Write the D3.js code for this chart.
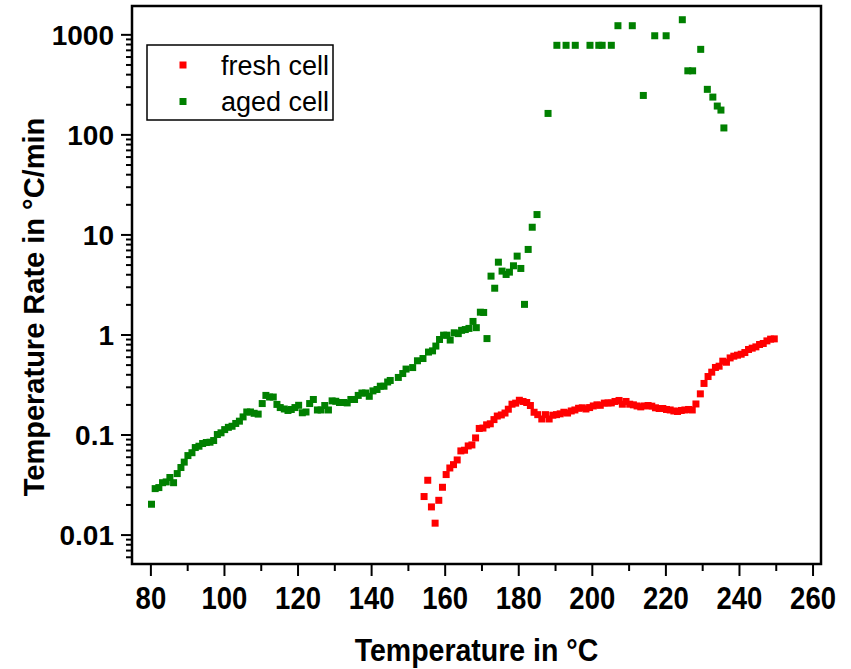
<!DOCTYPE html>
<html>
<head>
<meta charset="utf-8">
<script src="https://cdn.jsdelivr.net/npm/d3@7"></script>
<style>
  body { margin: 0; background: #fff; }
  svg text { font-family: "Liberation Sans", Arial, sans-serif; }
</style>
</head>
<body>
<div id="chart"></div>
<script>
(function () {

	'use strict';

	// fresh cell, temperature in °C and rate in °C/min
	const freshTemp = [154.4, 155.4, 156.4, 157.4, 158.4, 159.4, 160.4, 161.4, 162.4, 163.4,
		164.4, 165.4, 166.4, 167.4, 168.4, 169.4, 170.4, 171.4, 172.4, 173.4,
		174.3, 175.4, 176.4, 177.3, 178.3, 179.3, 180.3, 181.3, 182.3, 183.3,
		184.3, 185.3, 186.4, 187.4, 188.4, 189.4, 190.4, 191.4, 192.4, 193.4,
		194.4, 195.4, 196.4, 197.4, 198.4, 199.4, 200.4, 201.4, 202.3, 203.4,
		204.4, 205.3, 206.3, 207.4, 208.3, 209.3, 210.3, 211.3, 212.3, 213.3,
		214.3, 215.3, 216.3, 217.3, 218.3, 219.3, 220.3, 221.3, 222.3, 223.3,
		224.3, 225.3, 226.3, 227.3, 228.3, 229.5, 230.5, 231.6, 232.6, 233.6,
		234.6, 235.6, 236.6, 237.6, 238.6, 239.6, 240.6, 241.6, 242.6, 243.6,
		244.6, 245.6, 246.6, 247.6, 248.6, 249.6];
	const freshRate = [0.024, 0.0349, 0.0189, 0.013, 0.022, 0.0297, 0.0398, 0.0463, 0.050, 0.0557,
		0.0686, 0.0697, 0.0769, 0.0787, 0.0925, 0.115, 0.116, 0.125, 0.128, 0.141,
		0.153, 0.157, 0.164, 0.179, 0.201, 0.206, 0.220, 0.214, 0.209, 0.195,
		0.167, 0.158, 0.143, 0.158, 0.143, 0.156, 0.158, 0.161, 0.167, 0.164,
		0.172, 0.176, 0.183, 0.185, 0.180, 0.186, 0.193, 0.198, 0.196, 0.206,
		0.207, 0.207, 0.214, 0.219, 0.201, 0.214, 0.201, 0.198, 0.193, 0.189,
		0.193, 0.195, 0.192, 0.185, 0.182, 0.182, 0.178, 0.176, 0.172, 0.170,
		0.174, 0.176, 0.178, 0.176, 0.202, 0.255, 0.324, 0.38, 0.42, 0.468,
		0.482, 0.541, 0.528, 0.583, 0.607, 0.621, 0.635, 0.66, 0.708, 0.73,
		0.752, 0.794, 0.813, 0.863, 0.898, 0.904];

	// aged cell
	const agedTemp = [80.3, 81.3, 82.3, 83.3, 84.3, 85.3, 86.3, 87.3, 88.3, 89.2,
		90.2, 91.3, 92.2, 93.2, 94.2, 95.2, 96.2, 97.2, 98.2, 99.2,
		100.2, 101.2, 102.2, 103.2, 104.2, 105.2, 106.2, 107.2, 108.2, 109.3,
		110.4, 111.4, 112.4, 113.4, 114.4, 115.3, 116.4, 117.4, 118.3, 119.3,
		120.3, 121.3, 122.3, 123.3, 124.3, 125.4, 126.4, 127.4, 128.4, 129.4,
		130.4, 131.4, 132.5, 133.5, 134.5, 135.5, 136.5, 137.5, 138.5, 139.5,
		140.5, 141.6, 142.5, 143.5, 144.5, 145.2, 147.4, 148.6, 149.5, 151.3,
		152.6, 154.1, 155.6, 156.7, 157.6, 158.6, 159.7, 160.6, 161.5, 162.6,
		163.7, 164.6, 165.6, 166.6, 167.7, 168.6, 169.7, 170.6, 171.5, 172.6,
		173.6, 174.6, 175.6, 176.7, 177.6, 178.7, 179.7, 180.7, 181.7, 182.7,
		183.8, 185.1, 188.1, 190.5, 193.0, 195.5, 199.5, 201.9, 202.8, 205.3,
		207.1, 211.0, 214.0, 217.1, 220.2, 224.6, 226.1, 227.4, 229.6, 231.4,
		232.9, 234.1, 235.1, 235.9];
	const agedRate = [0.0201, 0.0288, 0.0295, 0.033, 0.0336, 0.0372, 0.033, 0.0407, 0.0468, 0.053,
		0.0616, 0.0658, 0.0741, 0.0764, 0.0813, 0.0832, 0.0838, 0.0871, 0.100, 0.104,
		0.112, 0.118, 0.121, 0.129, 0.136, 0.150, 0.168, 0.168, 0.163, 0.160,
		0.204, 0.246, 0.237, 0.237, 0.200, 0.186, 0.180, 0.174, 0.178, 0.186,
		0.196, 0.165, 0.168, 0.204, 0.224, 0.176, 0.176, 0.195, 0.176, 0.217,
		0.215, 0.209, 0.209, 0.207, 0.224, 0.224, 0.246, 0.260, 0.260, 0.241,
		0.273, 0.282, 0.304, 0.304, 0.335, 0.347, 0.372, 0.407, 0.451, 0.467,
		0.546, 0.575, 0.667, 0.686, 0.766, 0.891, 0.984, 0.984, 0.88, 1.04,
		1.02, 1.10, 1.12, 1.15, 1.35, 1.17, 1.67, 1.66, 0.91, 3.83,
		2.9, 5.28, 4.3, 3.98, 4.2, 4.86, 6.07, 4.57, 2.0, 7.08,
		11.8, 15.8, 162, 777, 777, 777, 777, 777, 777, 777,
		1220, 1220, 245, 968, 968, 1400, 432, 432, 708, 282,
		236, 192, 175, 116];

	const xMajorTicks = [80, 100, 120, 140, 160, 180, 200, 220, 240, 260];
	const yMajorTicks = [0.01, 0.1, 1, 10, 100, 1000];
	const yTickLabels = ['0.01', '0.1', '1', '10', '100', '1000'];
	const seriesNames = ['fresh cell', 'aged cell'];
	const seriesColors = ['#ff0000', '#008000'];

	// layout
	let width = 851, height = 669;
	let plot = {left: 132, right: 821, top: 6, bottom: 564};
	let markerSize = 7;

	let svg = d3.select('#chart').append('svg')
		.attr('width', width)
		.attr('height', height);

	let x = d3.scaleLinear().domain([75, 262.3]).range([plot.left, plot.right]);
	let y = d3.scaleLog().domain([0.00508, 1920]).range([plot.bottom, plot.top]);

	// minor ticks
	let xMinor = d3.range(90, 261, 20);
	let yMinor = [];
	[0.001, 0.01, 0.1, 1, 10, 100, 1000].forEach(function (d) {
		for (let k = 2; k <= 9; k++) {
			let v = d * k;
			if (v > y.domain()[0] * 0.999 && v < y.domain()[1]) yMinor.push(v);
		}
	});

	// x axis
	let xAxisMinor = svg.append('g')
		.attr('transform', 'translate(0,' + plot.bottom + ')')
		.call(d3.axisBottom(x).tickValues(xMinor).tickSize(7).tickFormat(''));
	let xAxis = svg.append('g')
		.attr('transform', 'translate(0,' + plot.bottom + ')')
		.call(d3.axisBottom(x).tickValues(xMajorTicks).tickSize(12).tickPadding(10).tickFormat(d3.format('d')));

	// y axis
	let yAxisMinor = svg.append('g')
		.attr('transform', 'translate(' + plot.left + ',0)')
		.call(d3.axisLeft(y).tickValues(yMinor).tickSize(6).tickFormat(''));
	let yAxis = svg.append('g')
		.attr('transform', 'translate(' + plot.left + ',0)')
		.call(d3.axisLeft(y).tickValues(yMajorTicks).tickSize(11).tickPadding(7)
			.tickFormat(function (d, i) { return yTickLabels[i]; }));

	[xAxisMinor, xAxis, yAxisMinor, yAxis].forEach(function (g) {
		g.select('.domain').remove();
		g.selectAll('.tick line').attr('stroke', '#000').attr('stroke-width', 2);
	});

	// x labels in the original look a little narrow and tall
	xAxis.selectAll('.tick text')
		.attr('fill', '#000')
		.attr('transform', 'scale(0.86,1)')
		.style('font-size', '32px')
		.style('font-weight', 'bold');

	yAxis.selectAll('.tick text')
		.attr('fill', '#000')
		.attr('dy', '0.36em')
		.style('font-size', '28px')
		.style('font-weight', 'bold');

	// frame
	svg.append('rect')
		.attr('x', plot.left)
		.attr('y', plot.top)
		.attr('width', plot.right - plot.left)
		.attr('height', plot.bottom - plot.top)
		.attr('fill', 'none')
		.attr('stroke', '#000')
		.attr('stroke-width', 2.5);

	// axis titles
	svg.append('text')
		.attr('transform', 'translate(' + ((plot.left + plot.right) / 2) + ',661) scale(0.92,1)')
		.attr('text-anchor', 'middle')
		.style('font-size', '31px')
		.style('font-weight', 'bold')
		.text('Temperature in °C');

	svg.append('text')
		.attr('transform', 'translate(44,' + 307 + ') rotate(-90)')
		.attr('text-anchor', 'middle')
		.style('font-size', '29px')
		.style('font-weight', 'bold')
		.text('Temperature Rate in °C/min');

	// data points
	let series = [
		{name: seriesNames[0], color: seriesColors[0], temp: freshTemp, rate: freshRate},
		{name: seriesNames[1], color: seriesColors[1], temp: agedTemp, rate: agedRate}
	];

	series.forEach(function (s) {
		svg.append('g').selectAll('rect')
			.data(s.temp.map(function (t, i) { return {t: t, r: s.rate[i]}; }))
			.enter().append('rect')
			.attr('x', function (d) { return x(d.t) - markerSize / 2; })
			.attr('y', function (d) { return y(d.r) - markerSize / 2; })
			.attr('width', markerSize)
			.attr('height', markerSize)
			.attr('fill', s.color);
	});

	// legend
	let legend = svg.append('g').attr('transform', 'translate(147,45)');
	legend.append('rect')
		.attr('width', 186)
		.attr('height', 75)
		.attr('fill', '#fff')
		.attr('stroke', '#000')
		.attr('stroke-width', 1.5);

	series.forEach(function (s, i) {
		let row = legend.append('g').attr('transform', 'translate(0,' + (20 + i * 36.5) + ')');
		row.append('rect')
			.attr('x', 36 - markerSize / 2)
			.attr('y', -markerSize / 2)
			.attr('width', markerSize)
			.attr('height', markerSize)
			.attr('fill', s.color);
		row.append('text')
			.attr('x', 74)
			.attr('dy', '0.36em')
			.style('font-size', '27px')
			.text(s.name);
	});

})();
</script>
</body>
</html>
